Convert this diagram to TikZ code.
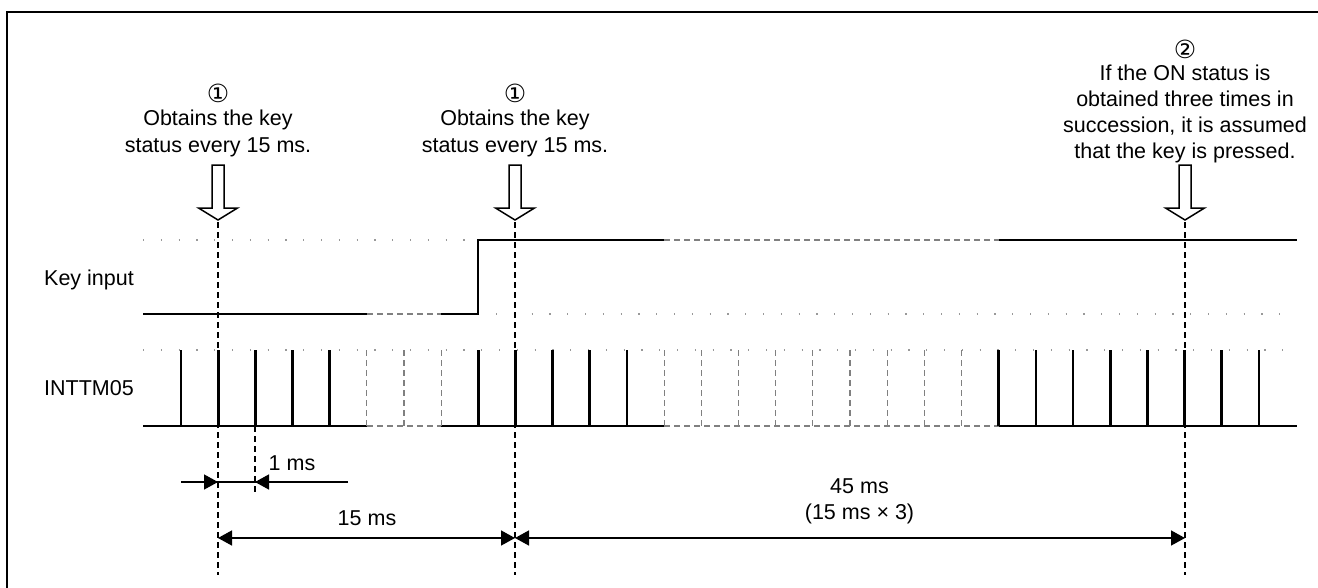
\documentclass[tikz,border=0pt]{standalone}
\usepackage{fontspec}
\setmainfont{Liberation Sans}
\newfontfamily\symfont{DejaVu Sans}
\usetikzlibrary{arrows.meta}
\begin{document}
\begin{tikzpicture}[x=1pt,y=-1pt,
  every node/.style={font=\fontsize{21.5pt}{26pt}\selectfont, inner sep=0pt},
  circnum/.style={font=\fontsize{25pt}{25pt}\symfont},
  sig/.style={line width=2.2pt},
  pulse/.style={line width=2.8pt},
  gpulse/.style={color=gray, line width=1.2pt, dash pattern=on 6pt off 4pt},
  gsig/.style={color=gray, line width=2pt, dash pattern=on 6pt off 4pt},
  guide/.style={color=gray!80, line width=1.2pt, dash pattern=on 1.2pt off 16.6pt},
  vdash/.style={line width=1.5pt, dash pattern=on 6pt off 4pt},
  dim/.style={line width=1.5pt},
  tipone/.style={-{Triangle[length=14pt,width=15pt]}},
  tipboth/.style={{Triangle[length=14pt,width=15pt]}-{Triangle[length=14pt,width=15pt]}},
  downarrow/.pic={\draw[line width=1.5pt, fill=white, line join=miter]
     (-6,0) -- (-6,43) -- (-19.5,43) -- (0,55) -- (19.5,43) -- (6,43) -- (6,0) -- cycle;}
]
\useasboundingbox (0,0) rectangle (1318,587);
\fill[white] (0,0) rectangle (1318,587);
\draw[line width=2.5pt, line join=miter] (7,590) -- (7,12) -- (1320,12);

% guide dots
\draw[guide] (143,240) -- (470,240);
\draw[guide] (496,314) -- (1297,314);
\draw[guide] (143,350) -- (1297,350);

% key input signal
\draw[sig] (143,314) -- (367,314);
\draw[gsig] (367,314) -- (441,314);
\draw[sig, line join=miter] (441,314) -- (478,314) -- (478,240) -- (664,240);
\draw[gsig] (664,240) -- (999,240);
\draw[sig] (999,240) -- (1297,240);

% INTTM05 baseline
\draw[sig] (143,426) -- (367,426);
\draw[gsig] (367,426) -- (441,426);
\draw[sig] (441,426) -- (664,426);
\draw[gsig] (664,426) -- (999,426);
\draw[sig] (999,426) -- (1297,426);

% pulses
\foreach \k in {0,1,2,3,4,8,9,10,11,12,22,23,24,25,26,27,28,29}
  \draw[pulse] ({181+37.17*\k},426) -- ({181+37.17*\k},350);
\foreach \k in {5,6,7,13,14,15,16,17,18,19,20,21}
  \draw[gpulse] ({181+37.17*\k},350) -- ({181+37.17*\k},426);

% callout arrows
\pic at (218,165) {downarrow};
\pic at (515,165) {downarrow};
\pic at (1185,165) {downarrow};

% dashed verticals
\coordinate (a1) at (218,222); \coordinate (b1) at (218,575);
\coordinate (a2) at (515,222); \coordinate (b2) at (515,575);
\coordinate (a3) at (1185,222); \coordinate (b3) at (1185,575);
\coordinate (a4) at (255,426); \coordinate (b4) at (255,494);
\draw[vdash] (a1) -- (b1);
\draw[vdash] (a2) -- (b2);
\draw[vdash] (a3) -- (b3);
\draw[vdash] (a4) -- (b4);

% dimensions
\coordinate (d1) at (181,482); \coordinate (d2) at (218,482);
\coordinate (d3) at (255,482); \coordinate (d4) at (348,482);
\draw[dim] (d1) -- (d4);
\draw[dim,tipone] (d1) -- (d2);
\draw[dim,tipone] (d4) -- (d3);
\coordinate (e1) at (218,538); \coordinate (e2) at (515,538); \coordinate (e3) at (1185,538);
\draw[dim,tipboth] (e1) -- (e2);
\draw[dim,tipboth] (e2) -- (e3);

% labels
\node[anchor=base west] (lkey) at (44,285) {Key input};
\node[anchor=base west] (lint) at (44,395.5) {INTTM05};
\node[anchor=base] (l1ms) at (292,470) {1 ms};
\node[anchor=base] (l15ms) at (367,525.5) {15 ms};
\node[anchor=base] (l45ms) at (859.5,493) {45 ms};
\node[anchor=base] (l45b) at (859.5,519) {(15 ms × 3)};

% callouts
\node[circnum] (c1n) at (218,93) {①};
\node[anchor=base] (c1a) at (218,125) {Obtains the key};
\node[anchor=base] (c1b) at (218,152) {status every 15 ms.};
\node[circnum] (c2n) at (515,93) {①};
\node[anchor=base] (c2a) at (515,125) {Obtains the key};
\node[anchor=base] (c2b) at (515,152) {status every 15 ms.};
\node[circnum] (c3n) at (1185,49) {②};
\node[anchor=base] (c3a) at (1185,80) {If the ON status is};
\node[anchor=base] (c3b) at (1185,106) {obtained three times in};
\node[anchor=base] (c3c) at (1185,132) {succession, it is assumed};
\node[anchor=base] (c3d) at (1185,158) {that the key is pressed.};
\end{tikzpicture}
\end{document}
